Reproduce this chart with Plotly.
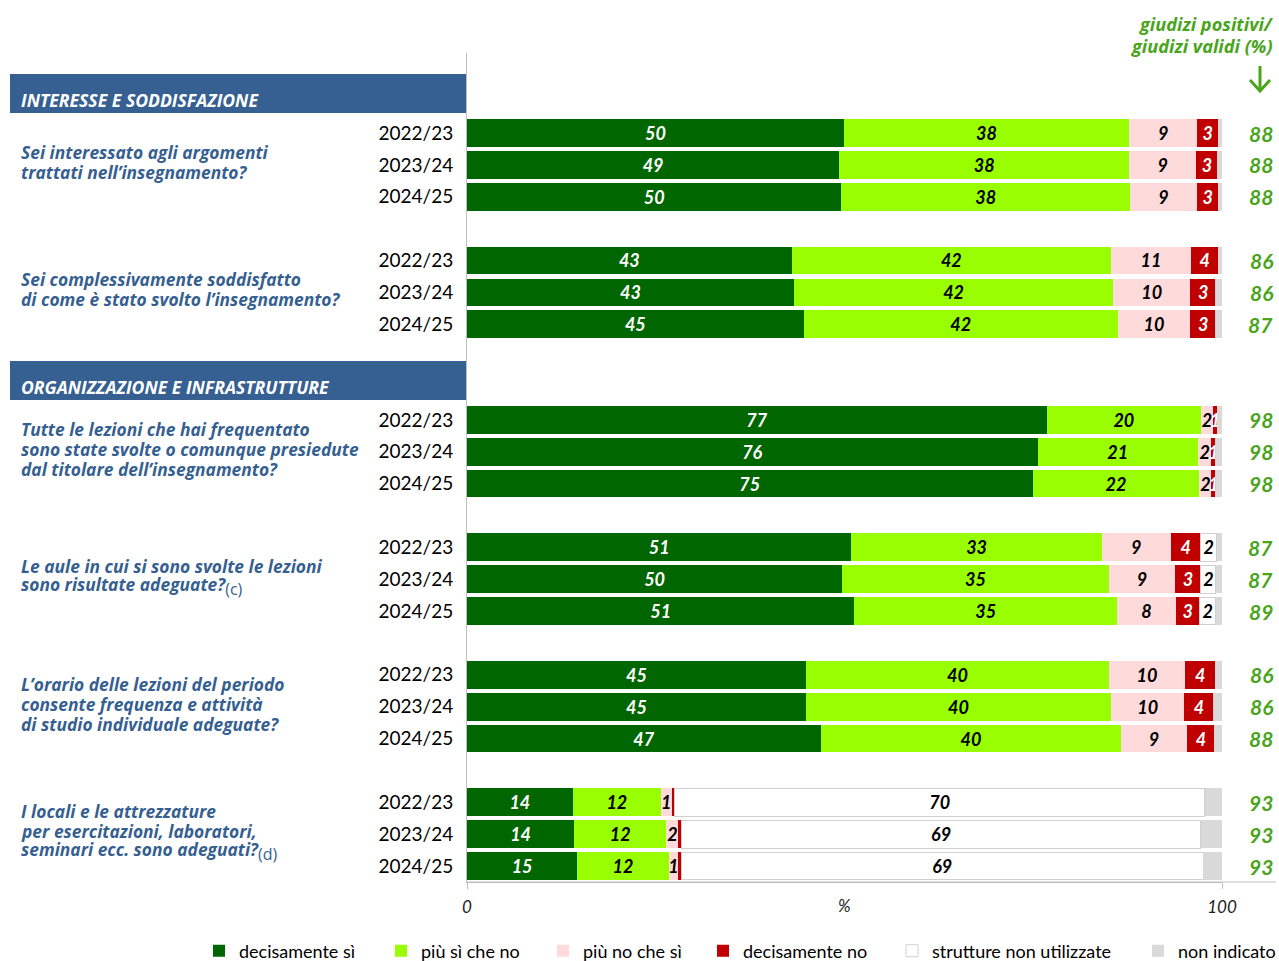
import plotly.graph_objects as go

# ---------------- data ----------------
years = ["2022/23", "2023/24", "2024/25"]
sections = ["INTERESSE E SODDISFAZIONE", "ORGANIZZAZIONE E INFRASTRUTTURE"]
questions = [
    "Sei interessato agli argomenti<br>trattati nell’insegnamento?",
    "Sei complessivamente soddisfatto<br>di come è stato svolto l’insegnamento?",
    "Tutte le lezioni che hai frequentato<br>sono state svolte o comunque presiedute<br>dal titolare dell’insegnamento?",
    "Le aule in cui si sono svolte le lezioni<br>sono risultate adeguate?",
    "L’orario delle lezioni del periodo<br>consente frequenza e attività<br>di studio individuale adeguate?",
    "I locali e le attrezzature<br>per esercitazioni, laboratori,<br>seminari ecc. sono adeguati?",
]
notes = ["", "", "", "(c)", "", "(d)"]
question_section = [0, 0, 1, 1, 1, 1]

categories = ["decisamente sì", "più sì che no", "più no che sì", "decisamente no",
              "strutture non utilizzate", "non indicato"]

decisamente_si = [49.9, 49.3, 49.6, 43.0, 43.3, 44.6, 76.8, 75.6, 74.9,
                  50.9, 49.7, 51.3, 44.9, 44.9, 46.9, 14.0, 14.2, 14.6]
piu_si_che_no = [37.8, 38.4, 38.2, 42.3, 42.3, 41.6, 20.4, 21.2, 22.1,
                 33.2, 35.3, 34.8, 40.1, 40.4, 39.7, 11.7, 12.2, 12.1]
piu_no_che_si = [9.0, 8.9, 8.9, 10.6, 10.2, 9.6, 1.6, 1.8, 1.6,
                 9.1, 8.8, 7.8, 10.1, 9.7, 8.8, 1.4, 1.6, 1.3]
decisamente_no = [2.8, 2.8, 2.8, 3.6, 3.4, 3.4, 0.6, 0.6, 0.6,
                  4.0, 3.4, 3.1, 4.0, 3.9, 3.6, 0.4, 0.4, 0.4]
strutture_non_utilizzate = [0, 0, 0, 0, 0, 0, 0, 0, 0,
                            2.1, 2.0, 2.2, 0, 0, 0, 70.2, 68.8, 69.1]
non_indicato = [0.5, 0.6, 0.5, 0.5, 0.8, 0.8, 0.6, 0.8, 0.8,
                0.7, 0.8, 0.8, 0.9, 1.1, 1.0, 2.3, 2.8, 2.5]

giudizi_positivi = [88, 88, 88, 86, 86, 87, 98, 98, 98,
                    87, 87, 89, 86, 86, 88, 93, 93, 93]

header_right = ["giudizi positivi/", "giudizi validi (%)"]

# ---------------- styling ----------------
FONT = "Lato"
QFONT = "Open Sans"
colors = ["#006600", "#99FF00", "#FFDADA", "#C00000", "#FFFFFF", "#D9D9D9"]
text_colors = ["white", "black", "black", "white", "black", None]
legend_left_px = [199, 381, 543, 703, 892, 1138]
HEADER_BLUE = "#366092"
QUESTION_BLUE = "#365F91"
POS_GREEN = "#4AA51C"

W, H = 1279, 961
PL, PR, PT, PB = 467, 1222, 53, 882


def fx(px):
    return (px - PL) / (PR - PL)


def fy(py):
    return (PB - py) / (PB - PT)


# y positions of the bars (3 per question, gaps between groups)
positions = []
for g in range(len(questions)):
    for r in range(len(years)):
        positions.append(g * 4 + r + (1 if question_section[g] >= 1 else 0))

series = [decisamente_si, piu_si_che_no, piu_no_che_si, decisamente_no,
          strutture_non_utilizzate, non_indicato]

fig = go.Figure()
legend_layouts = {}
for i, (name, vals, col, tcol) in enumerate(zip(categories, series, colors, text_colors)):
    if tcol is None:
        texts = ["" for _ in vals]
    else:
        texts = [str(round(v)) if round(v) >= 1 else "" for v in vals]
    lname = "legend" if i == 0 else f"legend{i + 1}"
    fig.add_trace(go.Bar(
        y=positions, x=vals, orientation="h", name=name,
        width=0.87,
        marker=dict(color=col,
                    line=dict(color="#D0D0D0" if col == "#FFFFFF" else col,
                              width=1 if col == "#FFFFFF" else 0)),
        text=texts, textposition="inside", insidetextanchor="middle",
        constraintext="none", textangle=0,
        textfont=dict(family=FONT, size=18, color=tcol or "black",
                      weight="bold", style="italic"),
        hoverinfo="skip",
        legend=lname,
    ))
    legend_layouts[lname] = dict(
        orientation="h", xref="container", yref="container",
        x=legend_left_px[i] / W, y=1 - 951 / H, xanchor="left", yanchor="middle",
        font=dict(family=FONT, size=18, color="black"),
        itemclick=False, itemdoubleclick=False, bgcolor="rgba(0,0,0,0)",
        itemwidth=30,
    )

annotations = []
shapes = []

# section headers
header_boxes = [(74, 113), (361, 400)]
for title, (t, b) in zip(sections, header_boxes):
    shapes.append(dict(type="rect", xref="paper", yref="paper",
                       x0=fx(10), x1=fx(467), y0=fy(b), y1=fy(t),
                       fillcolor=HEADER_BLUE, line=dict(width=0), layer="below"))
    annotations.append(dict(xref="paper", yref="paper", x=fx(19), y=fy(b - 13),
                            xanchor="left", yanchor="middle", showarrow=False,
                            text=title,
                            font=dict(family=QFONT, size=17.6, color="white",
                                      weight="bold", style="italic")))

# question texts, one annotation per line (20 px line spacing)
LINE = 20
for g, (q, note) in enumerate(zip(questions, notes)):
    mid = positions[g * 3 + 1]
    lines = q.split("<br>")
    n = len(lines)
    for i, line in enumerate(lines):
        txt = line
        if note and i == n - 1:
            txt += ("<sub><span style='font-size:16px;font-weight:normal;"
                    "font-style:normal'>" + note + "</span></sub>")
        annotations.append(dict(
            xref="paper", yref="y", x=fx(19), y=mid,
            yshift=3 + ((n - 1) / 2 - i) * LINE,
            xanchor="left", yanchor="middle", align="left",
            showarrow=False, text=txt,
            font=dict(family=QFONT, size=17.4, color=QUESTION_BLUE,
                      weight="bold", style="italic")))

# positive judgement values
for p, v in zip(positions, giudizi_positivi):
    annotations.append(dict(xref="paper", yref="y", x=fx(1275), y=p,
                            xanchor="right", yanchor="middle", showarrow=False,
                            text=str(v),
                            font=dict(family=FONT, size=21, color=POS_GREEN,
                                      weight="bold", style="italic")))

# header top right
for line, py in zip(header_right, [24, 46]):
    annotations.append(dict(xref="paper", yref="paper", x=fx(1275), y=fy(py),
                            xanchor="right", yanchor="middle", align="right",
                            showarrow=False, text=line,
                            font=dict(family=QFONT, size=18.2, color=POS_GREEN,
                                      weight="bold", style="italic")))
# arrow
shapes.append(dict(type="path", xref="paper", yref="paper",
                   path=f"M {fx(1260)},{fy(66)} L {fx(1260)},{fy(91)}",
                   line=dict(color=POS_GREEN, width=3)))
shapes.append(dict(type="path", xref="paper", yref="paper",
                   path=(f"M {fx(1250)},{fy(80)} L {fx(1260)},{fy(91)} "
                         f"L {fx(1270)},{fy(80)}"),
                   line=dict(color=POS_GREEN, width=3)))

# extended baseline
shapes.append(dict(type="line", xref="paper", yref="paper",
                   x0=0, x1=fx(1276), y0=0, y1=0,
                   line=dict(color="#BFBFBF", width=1)))

# percent sign
annotations.append(dict(xref="x", yref="paper", x=50, y=fy(905),
                        xanchor="center", yanchor="middle", showarrow=False,
                        text="%", font=dict(family=FONT, size=17, color="#222222",
                                            style="italic")))

fig.update_layout(
    width=W, height=H, autosize=False,
    barmode="stack",
    paper_bgcolor="white", plot_bgcolor="white",
    margin=dict(l=PL, r=W - PR, t=PT, b=H - PB, pad=0),
    font=dict(family=FONT, color="black"),
    xaxis=dict(range=[0, 100], tickvals=[0, 100], ticktext=["0", "100"],
               showgrid=False, zeroline=False, showline=True,
               linecolor="#BFBFBF", ticks="outside", ticklen=6,
               tickcolor="#BFBFBF", ticklabelstandoff=4,
               tickfont=dict(family=FONT, size=17, color="#222222",
                             style="italic"),
               fixedrange=True),
    yaxis=dict(range=[23.5, -2.51], tickvals=positions,
               ticktext=years * len(questions),
               showgrid=False, zeroline=False, showline=True,
               linecolor="#BFBFBF", ticks="", ticklabelstandoff=9,
               tickfont=dict(family=FONT, size=19, color="black"),
               fixedrange=True),
    shapes=shapes,
    annotations=annotations,
    showlegend=True,
    **legend_layouts,
)

fig.write_html("out.html", config={"displayModeBar": False},
               post_script="document.body.style.margin='0';")
